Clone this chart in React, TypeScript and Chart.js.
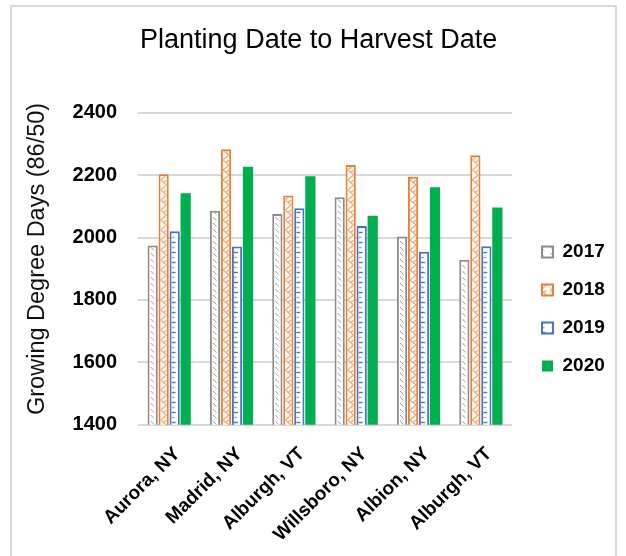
import React, { useEffect, useRef } from 'react';
import { Chart, registerables } from 'chart.js';

Chart.register(...registerables);

const categories = ['Aurora, NY', 'Madrid, NY', 'Alburgh, VT', 'Willsboro, NY', 'Albion, NY', 'Alburgh, VT'];
const seriesNames = ['2017', '2018', '2019', '2020'];
const s2017 = [1974, 2086, 2075, 2129, 2003, 1929];
const s2018 = [2203, 2283, 2135, 2232, 2195, 2264];
const s2019 = [2020, 1971, 2094, 2037, 1954, 1972];
const s2020 = [2142, 2227, 2196, 2070, 2161, 2096];
const yMin = 1400;
const yMax = 2400;
const yStep = 200;

const CAT_PCT = 0.706;
const BAR_PCT = 0.93;
const FONT = "'Liberation Sans', Arial, sans-serif";

function makeTile(w: number, h: number, draw: (g: CanvasRenderingContext2D) => void) {
  const c = document.createElement('canvas');
  c.width = w;
  c.height = h;
  const g = c.getContext('2d')!;
  g.fillStyle = '#ffffff';
  g.fillRect(0, 0, w, h);
  draw(g);
  return c;
}

const tile2017 = makeTile(10, 6, (g) => {
  g.strokeStyle = '#9a9a9a';
  g.lineWidth = 1;
  g.beginPath();
  g.moveTo(3, 1);
  g.lineTo(6.5, 4.5);
  g.stroke();
});

const tile2018 = makeTile(10, 10, (g) => {
  g.strokeStyle = '#f2a06c';
  g.lineWidth = 1.2;
  g.beginPath();
  g.moveTo(2, 0);
  g.lineTo(8, 5);
  g.lineTo(2, 10);
  g.moveTo(8, 0);
  g.lineTo(5, 2.5);
  g.stroke();
});

const tile2019 = makeTile(10, 10, (g) => {
  g.lineWidth = 1.4;
  g.strokeStyle = '#4472c4';
  g.beginPath();
  g.moveTo(2, 2.5);
  g.lineTo(6, 2.5);
  g.stroke();
  g.strokeStyle = '#93acdc';
  g.beginPath();
  g.moveTo(2, 7.5);
  g.lineTo(5, 7.5);
  g.stroke();
});

function patternFor(tile: HTMLCanvasElement, k: number) {
  return (ctx: any) => {
    const chart = ctx.chart;
    const p = chart.ctx.createPattern(tile, 'repeat');
    if (ctx.type === 'data' && chart.scales && chart.scales.x) {
      const sx = chart.scales.x;
      const n = categories.length;
      const catW = sx.width / n;
      const groupW = catW * CAT_PCT;
      const stride = groupW / 4;
      const barW = stride * BAR_PCT;
      const left = sx.getPixelForValue(ctx.dataIndex) - groupW / 2 + k * stride + (stride - barW) / 2;
      if (p && p.setTransform) p.setTransform(new DOMMatrix([1, 0, 0, 1, left, 0]));
    }
    return p;
  };
}

export default function App() {
  const ref = useRef<HTMLCanvasElement>(null);

  useEffect(() => {
    if (!ref.current) return;
    Chart.defaults.font.family = FONT;
    const chart = new Chart(ref.current, {
      type: 'bar',
      data: {
        labels: categories,
        datasets: [
          {
            label: seriesNames[0],
            data: s2017,
            backgroundColor: patternFor(tile2017, 0) as any,
            borderColor: '#8c8c8c',
            borderWidth: 2,
          },
          {
            label: seriesNames[1],
            data: s2018,
            backgroundColor: patternFor(tile2018, 1) as any,
            borderColor: '#ed7d31',
            borderWidth: 2,
          },
          {
            label: seriesNames[2],
            data: s2019,
            backgroundColor: patternFor(tile2019, 2) as any,
            borderColor: '#4472c4',
            borderWidth: 2,
          },
          {
            label: seriesNames[3],
            data: s2020,
            backgroundColor: '#00b050',
            borderColor: '#00b050',
            borderWidth: 0,
          },
        ],
      },
      options: {
        responsive: false,
        devicePixelRatio: 1,
        animation: false,
        datasets: {
          bar: {
            categoryPercentage: CAT_PCT,
            barPercentage: BAR_PCT,
            borderSkipped: 'bottom',
          },
        },
        layout: { padding: { left: 22.5, right: 11.2, top: 0, bottom: 0 } },
        plugins: {
          tooltip: { enabled: false },
          title: {
            display: true,
            text: 'Planting Date to Harvest Date',
            color: '#000000',
            font: { family: FONT, size: 27, weight: 'normal' },
            padding: { top: 24, bottom: 56.3 },
          },
          legend: {
            display: true,
            position: 'right',
            align: 'start',
            title: {
              display: true,
              text: '',
              padding: { top: 0, bottom: 211.5 },
              font: { size: 10 },
            },
            labels: {
              boxWidth: 11,
              boxHeight: 11,
              padding: 19,
              color: '#000000',
              font: { family: FONT, size: 19, weight: 'bold' },
            },
          },
        },
        scales: {
          x: {
            grid: { display: false, drawTicks: false },
            border: { display: false },
            ticks: {
              autoSkip: false,
              maxRotation: 45,
              minRotation: 45,
              padding: 18,
              labelOffset: 8,
              color: '#000000',
              font: { family: FONT, size: 19, weight: 'bold' },
            },
            afterFit: (s: any) => {
              s.height = 131.3;
            },
          },
          y: {
            min: yMin,
            max: yMax,
            grid: { color: '#d9d9d9', lineWidth: 2, drawTicks: false },
            border: { display: false },
            ticks: {
              stepSize: yStep,
              padding: 21,
              color: '#000000',
              font: { family: FONT, size: 20, weight: 'bold' },
              callback: (v: any) => String(v),
            },
            title: {
              display: true,
              text: '   Growing Degree Days (86/50)',
              color: '#111111',
              font: { family: FONT, size: 23.5, weight: 'normal' },
              padding: { top: 0.5, bottom: 2 },
            },
            afterFit: (s: any) => {
              s.width = 115.5;
            },
          },
          y2: {
            type: 'linear',
            position: 'right',
            display: true,
            grid: { display: false, drawTicks: false },
            border: { display: false },
            ticks: { display: false },
            afterFit: (s: any) => {
              s.width = 11;
            },
          } as any,
        },
      },
    });
    return () => chart.destroy();
  }, []);

  return (
    <div style={{ position: 'absolute', left: 0, top: 0, width: 626, height: 556, overflow: 'hidden', background: '#fff' }}>
      <canvas ref={ref} width={626} height={556} style={{ display: 'block', width: 626, height: 556 }} />
      <div
        style={{
          position: 'absolute',
          left: 10,
          top: 5,
          width: 607,
          height: 570,
          border: '2px solid #d9d9d9',
          boxSizing: 'border-box',
          pointerEvents: 'none',
        }}
      />
    </div>
  );
}
